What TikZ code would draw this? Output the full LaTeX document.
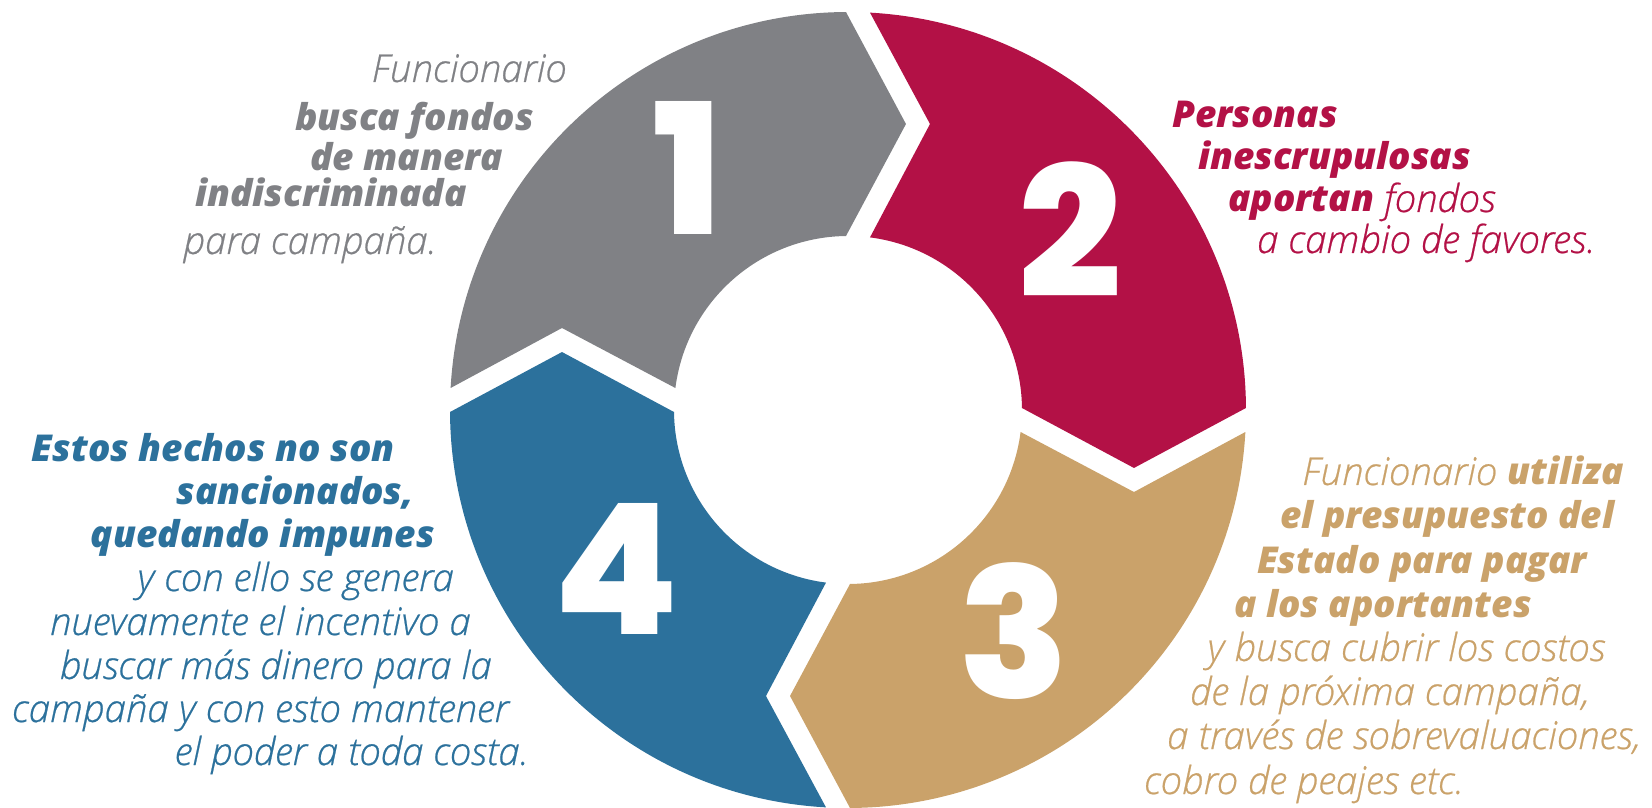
\documentclass[tikz,border=0pt]{standalone}
\usepackage{fontspec}
\IfFontExistsTF{Open Sans Light Italic}{\newfontfamily\litfont{Open Sans Light Italic}[FakeBold=0.6]}{\newfontfamily\litfont{Open Sans Italic}}
\IfFontExistsTF{Open Sans ExtraBold Italic}{\newfontfamily\heavyfont{Open Sans ExtraBold Italic}}{%
  \IfFontExistsTF{Open Sans Extrabold Italic}{\newfontfamily\heavyfont{Open Sans Extrabold Italic}}{\newfontfamily\heavyfont{Open Sans Bold Italic}}}
\IfFontExistsTF{Poppins ExtraBold}{\newfontfamily\numfont{Poppins ExtraBold}}{%
  \IfFontExistsTF{Poppins Bold}{\newfontfamily\numfont{Poppins Bold}}{\newfontfamily\numfont{Poppins}[FakeBold=3]}}
\definecolor{gris}{HTML}{808185}
\definecolor{rojo}{HTML}{B31146}
\definecolor{oro}{HTML}{CAA26A}
\definecolor{azul}{HTML}{2C719C}
\def\ringseg[#1](#2){\fill[#1] ({#2+86.83}:398) arc[start angle={#2+86.83}, end angle={#2+0.29}, radius=398] -- ({#2-11.46}:291.82) -- ({#2+0.66}:174) arc[start angle={#2+0.66}, end angle={#2+82.74}, radius=174] -- ({#2+74.0}:297.52) -- cycle;}
\newcommand\hv[1]{{\heavyfont\fontsize{37}{37}\selectfont #1}}

\begin{document}
\begin{tikzpicture}[x=1pt, y=1pt,
	lt/.style={inner sep=0pt, font=\litfont\fontsize{38.5}{38.5}\selectfont},
	hvy/.style={inner sep=0pt, font=\heavyfont\fontsize{37}{37}\selectfont},
	num/.style={inner sep=0pt, anchor=base, text=white, font=\numfont\fontsize{182}{182}\selectfont}]
			%%%%% START %%%%%
			\useasboundingbox (-848,-398) rectangle (804,410);
			
			\ringseg[gris](90)
			\ringseg[rojo](0)
			\ringseg[oro](-90)
			\ringseg[azul](-180)
			
			\node[num] (n1) at (-160,175) {1};
			\node[num] (n2) at (222,112) {2};
			\node[num] (n3) at (166,-288) {3};
			\node[num] (n4) at (-232,-224) {4};
			
			\node[lt, gris, anchor=base east] (g1) at (-281,328) {Funcionario};
			\node[hvy, gris, anchor=base east] (g2) at (-314,279) {busca fondos};
			\node[hvy, gris, anchor=base east] (g3) at (-345,239) {de manera};
			\node[hvy, gris, anchor=base east] (g4) at (-381,203) {indiscriminada};
			\node[lt, gris, anchor=base east] (g5) at (-411,156) {para campaña.};
			
			\node[hvy, rojo, anchor=base west] (r1) at (324,282) {Personas};
			\node[hvy, rojo, anchor=base west] (r2) at (350,240) {inescrupulosas};
			\node[lt, rojo, anchor=base west] (r3) at (380,198) {\hv{aportan} fondos};
			\node[lt, rojo, anchor=base west] (r4) at (409,157) {a cambio de favores.};
			
			\node[lt, oro, anchor=base west] (o1) at (454,-75) {Funcionario \hv{utiliza}};
			\node[hvy, oro, anchor=base west] (o2) at (432,-119) {el presupuesto del};
			\node[hvy, oro, anchor=base west] (o3) at (409,-164) {Estado para pagar};
			\node[hvy, oro, anchor=base west] (o4) at (386,-207) {a los aportantes};
			\node[lt, oro, anchor=base west] (o5) at (359,-251) {y busca cubrir los costos};
			\node[lt, oro, anchor=base west] (o6) at (342,-295) {de la próxima campaña,};
			\node[lt, oro, anchor=base west] (o7) at (319,-339) {a través de sobrevaluaciones,};
			\node[lt, oro, anchor=base west] (o8) at (296,-384) {cobro de peajes etc.};
			
			\node[hvy, azul, anchor=base east] (a1) at (-453,-52) {Estos hechos no son};
			\node[hvy, azul, anchor=base east] (a2) at (-434,-95) {sancionados,};
			\node[hvy, azul, anchor=base east] (a3) at (-413,-138) {quedando impunes};
			\node[lt, azul, anchor=base east] (a4) at (-394,-181) {y con ello se genera};
			\node[lt, azul, anchor=base east] (a5) at (-377,-225) {nuevamente el incentivo a};
			\node[lt, azul, anchor=base east] (a6) at (-356,-269) {buscar más dinero para la};
			\node[lt, azul, anchor=base east] (a7) at (-339,-312) {campaña y con esto mantener};
			\node[lt, azul, anchor=base east] (a8) at (-319,-355) {el poder a toda costa.};
			
			%%%%% END %%%%%
\end{tikzpicture}
\end{document}
